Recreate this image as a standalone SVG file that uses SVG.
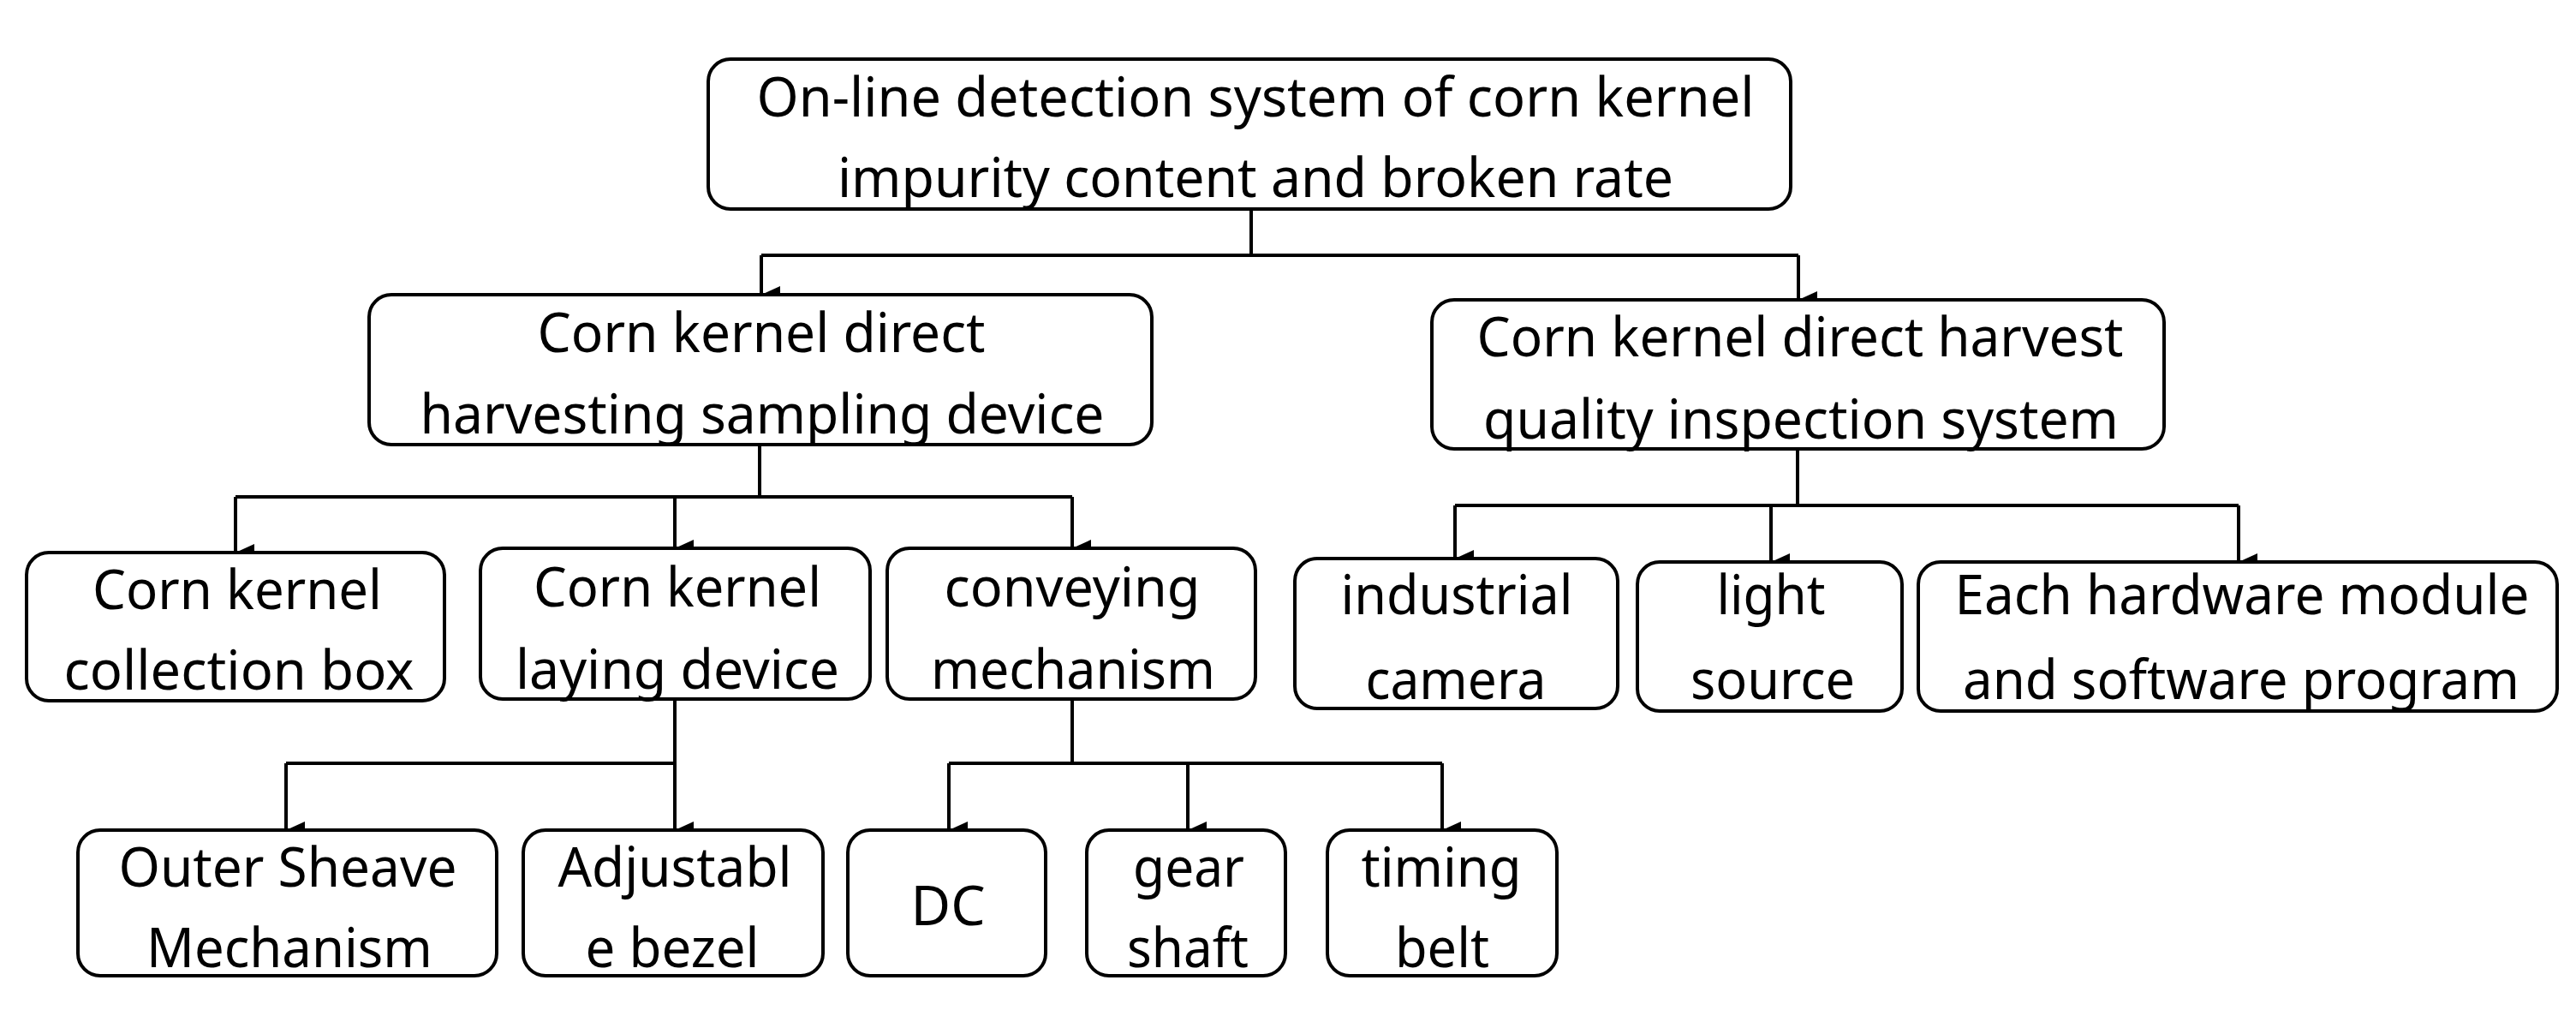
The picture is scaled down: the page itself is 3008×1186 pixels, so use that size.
<svg xmlns="http://www.w3.org/2000/svg" width="3008" height="1186" viewBox="0 0 3008 1186">
<defs>
<marker id="ah" markerWidth="20" markerHeight="22" refX="10" refY="22" orient="auto-start-reverse" markerUnits="userSpaceOnUse" viewBox="0 0 20 22"><path d="M0,0 L20,0 L10,22 Z" fill="#000"/></marker>
<style>
rect{fill:#fff;stroke:#000;stroke-width:4}
text{font-family:"Noto Sans","Open Sans",sans-serif;font-size:64px;fill:#000;text-anchor:middle}
.c path{fill:none;stroke:#000;stroke-width:4}
</style>
</defs>
<rect width="3008" height="1186" fill="#fff" style="stroke:none"/>
<g class="c">
<path d="M1461,244 V298 M889,298 H2100"/>
<path d="M889,298 V344" marker-end="url(#ah)"/>
<path d="M2100,298 V350" marker-end="url(#ah)"/>
<path d="M887,519 V580 M275,580 H1252"/>
<path d="M275,580 V645" marker-end="url(#ah)"/>
<path d="M788,580 V640" marker-end="url(#ah)"/>
<path d="M1252,580 V640" marker-end="url(#ah)"/>
<path d="M2099,524 V590 M1699,590 H2614"/>
<path d="M1699,590 V652" marker-end="url(#ah)"/>
<path d="M2068,590 V656" marker-end="url(#ah)"/>
<path d="M2614,590 V656" marker-end="url(#ah)"/>
<path d="M788,816 V891 M334,891 H788"/>
<path d="M334,891 V969" marker-end="url(#ah)"/>
<path d="M788,891 V969" marker-end="url(#ah)"/>
<path d="M1252,816 V891 M1108,891 H1684"/>
<path d="M1108,891 V969" marker-end="url(#ah)"/>
<path d="M1387,891 V969" marker-end="url(#ah)"/>
<path d="M1684,891 V969" marker-end="url(#ah)"/>
</g>
<g id="root"><rect x="827" y="69" width="1264" height="175" rx="26"/><text x="1466" y="136" textLength="1165" lengthAdjust="spacingAndGlyphs">On-line detection system of corn kernel</text><text x="1466" y="230" textLength="976" lengthAdjust="spacingAndGlyphs">impurity content and broken rate</text></g>
<g id="a"><rect x="431" y="344" width="914" height="175" rx="26"/><text x="889" y="411" textLength="523" lengthAdjust="spacingAndGlyphs">Corn kernel direct</text><text x="890" y="506" textLength="799" lengthAdjust="spacingAndGlyphs">harvesting sampling device</text></g>
<g id="b"><rect x="1672" y="350" width="855" height="174" rx="26"/><text x="2102" y="416" textLength="755" lengthAdjust="spacingAndGlyphs">Corn kernel direct harvest</text><text x="2103" y="512" textLength="742" lengthAdjust="spacingAndGlyphs">quality inspection system</text></g>
<g id="c1"><rect x="31" y="645" width="488" height="173" rx="26"/><text x="277" y="711" textLength="338" lengthAdjust="spacingAndGlyphs">Corn kernel</text><text x="279" y="805" textLength="409" lengthAdjust="spacingAndGlyphs">collection box</text></g>
<g id="c2"><rect x="561" y="640" width="455" height="176" rx="26"/><text x="791" y="708" textLength="336" lengthAdjust="spacingAndGlyphs">Corn kernel</text><text x="791" y="804" textLength="378" lengthAdjust="spacingAndGlyphs">laying device</text></g>
<g id="c3"><rect x="1036" y="640" width="430" height="176" rx="26"/><text x="1252" y="708" textLength="299" lengthAdjust="spacingAndGlyphs">conveying</text><text x="1253" y="804" textLength="332" lengthAdjust="spacingAndGlyphs">mechanism</text></g>
<g id="d1"><rect x="1512" y="652" width="377" height="175" rx="26"/><text x="1701" y="717" textLength="271" lengthAdjust="spacingAndGlyphs">industrial</text><text x="1700" y="816" textLength="211" lengthAdjust="spacingAndGlyphs">camera</text></g>
<g id="d2"><rect x="1912" y="656" width="309" height="174" rx="26"/><text x="2068" y="717" textLength="127" lengthAdjust="spacingAndGlyphs">light</text><text x="2070" y="816" textLength="192" lengthAdjust="spacingAndGlyphs">source</text></g>
<g id="d3"><rect x="2240" y="656" width="746" height="174" rx="26"/><text x="2618" y="717" textLength="671" lengthAdjust="spacingAndGlyphs">Each hardware module</text><text x="2617" y="816" textLength="650" lengthAdjust="spacingAndGlyphs">and software program</text></g>
<g id="e1"><rect x="91" y="969" width="489" height="170" rx="26"/><text x="336" y="1035" textLength="395" lengthAdjust="spacingAndGlyphs">Outer Sheave</text><text x="338" y="1129" textLength="334" lengthAdjust="spacingAndGlyphs">Mechanism</text></g>
<g id="e2"><rect x="611" y="969" width="350" height="170" rx="26"/><text x="788" y="1035" textLength="273" lengthAdjust="spacingAndGlyphs">Adjustabl</text><text x="785" y="1129" textLength="203" lengthAdjust="spacingAndGlyphs">e bezel</text></g>
<g id="e3"><rect x="990" y="969" width="231" height="170" rx="26"/><text x="1107" y="1080" textLength="87" lengthAdjust="spacingAndGlyphs">DC</text></g>
<g id="e4"><rect x="1269" y="969" width="232" height="170" rx="26"/><text x="1388" y="1035" textLength="130" lengthAdjust="spacingAndGlyphs">gear</text><text x="1387" y="1129" textLength="142" lengthAdjust="spacingAndGlyphs">shaft</text></g>
<g id="e5"><rect x="1550" y="969" width="268" height="170" rx="26"/><text x="1683" y="1035" textLength="187" lengthAdjust="spacingAndGlyphs">timing</text><text x="1684" y="1129" textLength="110" lengthAdjust="spacingAndGlyphs">belt</text></g>
</svg>
